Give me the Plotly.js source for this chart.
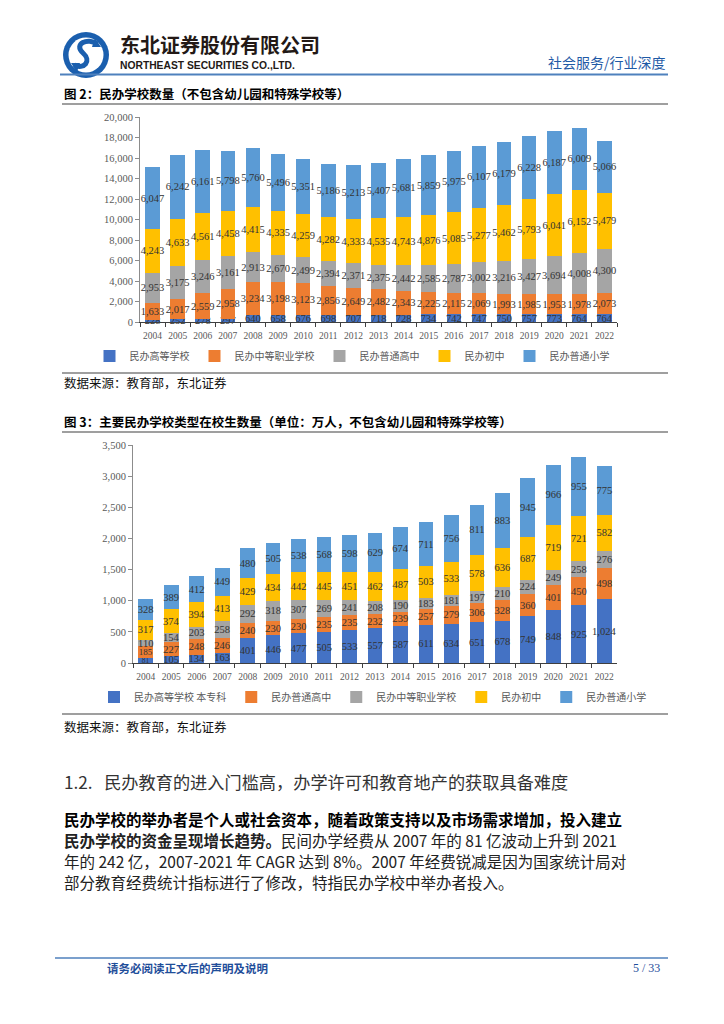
<!DOCTYPE html>
<html><head><meta charset="utf-8">
<script src="https://cdn.plot.ly/plotly-3.0.1.min.js"></script>
<style>html,body{margin:0;padding:0;background:#fff;}#chart{width:724px;height:1024px;}</style>
</head><body><div id="chart"></div>
<script>
// ---------- data ----------
const years = ['2004','2005','2006','2007','2008','2009','2010','2011','2012','2013','2014','2015','2016','2017','2018','2019','2020','2021','2022'];

// 图2 民办学校数量（所）
const schoolNames = ['民办高等学校','民办中等职业学校','民办普通高中','民办初中','民办普通小学'];
const schoolsHigher     = [228,252,278,297,640,658,676,698,707,718,728,734,742,747,750,757,773,764,764];
const schoolsVocational = [1633,2017,2559,2958,3234,3198,3123,2856,2649,2482,2343,2225,2115,2069,1993,1985,1953,1978,2073];
const schoolsHighSchool = [2953,3175,3246,3161,2913,2670,2499,2394,2371,2375,2442,2585,2787,3002,3216,3427,3694,4008,4300];
const schoolsJunior     = [4243,4633,4561,4458,4415,4335,4259,4282,4333,4535,4743,4876,5085,5277,5462,5793,6041,6152,5479];
const schoolsPrimary    = [6047,6242,6161,5798,5760,5496,5351,5186,5213,5407,5681,5859,5975,6107,6179,6228,6187,6009,5066];

// 图3 主要民办学校类型在校生数量（万人）
const studentNames = ['民办高等学校 本专科','民办普通高中','民办中等职业学校','民办初中','民办普通小学'];
const studentsHigher     = [81,105,134,163,401,446,477,505,533,557,587,611,634,651,678,749,848,925,1024];
const studentsHighSchool = [185,227,248,246,240,230,230,235,235,232,239,257,279,306,328,360,401,450,498];
const studentsVocational = [110,154,203,258,292,318,307,269,241,208,190,183,181,197,210,224,249,258,276];
const studentsJunior     = [317,374,394,413,429,434,442,445,451,462,487,503,533,578,636,687,719,721,582];
const studentsPrimary    = [328,389,412,449,480,505,538,568,598,629,674,711,756,811,883,945,966,955,775];

const colors = ['#4472C4','#ED7D31','#A5A5A5','#FFC000','#5B9BD5'];

// ---------- helpers ----------
const W = 724, H = 1024;
const px = x => x / W;
const py = y => 1 - y / H;
const CJK = 'Noto Sans CJK SC';
const SERIF = 'Liberation Serif, Times New Roman, serif';

function bar(name, y, color, xa, ya, lg, firstSize) {
  const size = firstSize ? y.map((v, i) => i === 0 ? firstSize : 10.5) : 10.5;
  return {
    type: 'bar', name: name, x: years, y: y, xaxis: xa, yaxis: ya, legend: lg,
    marker: {color: color, line: {width: 0}},
    texttemplate: '%{y:,}', textposition: 'inside', insidetextanchor: 'middle',
    textangle: 0, constraintext: 'none', cliponaxis: false,
    insidetextfont: {family: SERIF, size: size, color: '#333333'},
    textfont: {family: SERIF, size: size, color: '#333333'},
    hoverinfo: 'skip'
  };
}

const schoolSeries = [schoolsHigher, schoolsVocational, schoolsHighSchool, schoolsJunior, schoolsPrimary];
const studentSeries = [studentsHigher, studentsHighSchool, studentsVocational, studentsJunior, studentsPrimary];
const studentFirstSize = [7.5, 9, null, null, null];

const data = [];
schoolSeries.forEach((s, i) => data.push(bar(schoolNames[i], s, colors[i], 'x', 'y', 'legend')));
studentSeries.forEach((s, i) => data.push(bar(studentNames[i], s, colors[i], 'x2', 'y2', 'legend2', studentFirstSize[i])));

function xAxis(domain, anchor) {
  return {
    domain: domain, anchor: anchor, type: 'category',
    showline: true, linecolor: '#3f3f3f', linewidth: 1,
    ticks: 'outside', tickson: 'boundaries', ticklen: 4, tickcolor: '#3f3f3f',
    tickangle: 0, automargin: false, ticklabelstandoff: 5,
    tickfont: {family: SERIF, size: 9.5, color: '#595959'},
    showgrid: false, zeroline: false, fixedrange: true
  };
}
function yAxis(domain, anchor, range, dtick) {
  return {
    domain: domain, anchor: anchor, range: range, dtick: dtick, tickformat: ',d',
    showline: true, linecolor: '#8c8c8c', linewidth: 1,
    ticks: 'outside', ticklen: 4, tickcolor: '#8c8c8c', automargin: false,
    tickfont: {family: SERIF, size: 10.5, color: '#595959'},
    showgrid: false, zeroline: false, fixedrange: true
  };
}

function ann(x, y, text, size, opts) {
  return Object.assign({
    xref: 'paper', yref: 'paper', x: px(x), y: py(y), text: text,
    showarrow: false, xanchor: 'left', yanchor: 'middle',
    font: {family: CJK, size: size, color: '#000000'}
  }, opts || {});
}
function hline(x0, x1, y, color, width) {
  return {type: 'line', xref: 'paper', yref: 'paper', x0: px(x0), x1: px(x1), y0: py(y), y1: py(y),
          line: {color: color, width: width}};
}
function pathPx(cmds) {
  return cmds.map(c => c[0] + ' ' + c.slice(1).reduce((a, v, i) => {
    a.push(i % 2 === 0 ? px(v).toFixed(5) : py(v).toFixed(5)); return a; }, []).join(' ')).join(' ');
}

const bodyFont = {family: CJK, size: 15.5, color: '#222222'};
const annotations = [
  ann(118, 44, '<b>东北证券股份有限公司</b>', 20, {font: {family: CJK, size: 20, color: '#231916'}}),
  ann(118, 65, '<b>NORTHEAST SECURITIES CO.,LTD.</b>', 10, {font: {family: 'Liberation Sans, Arial, sans-serif', size: 10.3, color: '#231916'}}),
  ann(668, 62, '社会服务/行业深度', 14, {xanchor: 'right', font: {family: CJK, size: 14, color: '#1F5AA6'}}),
  ann(62, 93, '<b>图 2：民办学校数量（不包含幼儿园和特殊学校等）</b>', 12.5),
  ann(62, 382, '数据来源：教育部，东北证券', 12.5, {font: {family: CJK, size: 12.5, color: '#111111'}}),
  ann(62, 421, '<b>图 3：主要民办学校类型在校生数量（单位：万人，不包含幼儿园和特殊学校等）</b>', 12.5),
  ann(62, 726, '数据来源：教育部，东北证券', 12.5, {font: {family: CJK, size: 12.5, color: '#111111'}}),
  ann(62, 781, '1.2.   民办教育的进入门槛高，办学许可和教育地产的获取具备难度', 17.2, {font: {family: CJK, size: 17.2, color: '#333333'}}),
  ann(62, 819, '<b>民办学校的举办者是个人或社会资本，随着政策支持以及市场需求增加，投入建立</b>', 15.5, {font: {family: CJK, size: 15.5, color: '#000000'}}),
  ann(62, 840, '<b>民办学校的资金呈现增长趋势。</b>民间办学经费从 2007 年的 81 亿波动上升到 2021', 15.5, {font: bodyFont}),
  ann(62, 861, '年的 242 亿，2007-2021 年 CAGR 达到 8%。2007 年经费锐减是因为国家统计局对', 15.5, {font: bodyFont}),
  ann(62, 882, '部分教育经费统计指标进行了修改，特指民办学校中举办者投入。', 15.5, {font: bodyFont}),
  ann(105, 968, '<b>请务必阅读正文后的声明及说明</b>', 11.5, {font: {family: CJK, size: 11.5, color: '#1F4E9A'}}),
  ann(662, 968, '5 / 33', 12, {xanchor: 'right', font: {family: SERIF, size: 12, color: '#1F4E9A'}})
];

const shapes = [
  // logo
  {type: 'circle', xref: 'paper', yref: 'paper', x0: px(63), x1: px(109), y0: py(78), y1: py(32), fillcolor: '#1B5FAE', line: {width: 0}},
  {type: 'circle', xref: 'paper', yref: 'paper', x0: px(68.5), x1: px(103.5), y0: py(72.5), y1: py(37.5), fillcolor: '#ffffff', line: {width: 0}},
  {type: 'path', xref: 'paper', yref: 'paper', line: {color: '#1B5FAE', width: 5},
   path: pathPx([['M', 97, 44], ['C', 88, 37, 73, 44, 83, 53], ['C', 92, 61, 84, 70, 74, 65]])},
  {type: 'path', xref: 'paper', yref: 'paper', fillcolor: '#1B5FAE', line: {width: 0},
   path: pathPx([['M', 95, 38], ['L', 101, 47], ['L', 92, 47], ['Z']])},
  {type: 'path', xref: 'paper', yref: 'paper', fillcolor: '#1B5FAE', line: {width: 0},
   path: pathPx([['M', 77, 72], ['L', 71, 63], ['L', 80, 63], ['Z']])},
  hline(60, 668, 74.5, '#4F81BD', 2),
  hline(62, 668, 104, '#7f7f7f', 1.5),
  hline(62, 668, 373, '#7f7f7f', 1.5),
  hline(62, 668, 432, '#7f7f7f', 1.5),
  hline(62, 668, 714, '#7f7f7f', 1.5),
  hline(55, 668, 958, '#4F81BD', 1.5)
];

const legendBase = {
  orientation: 'h', xanchor: 'center', yanchor: 'middle', traceorder: 'normal',
  font: {family: CJK, size: 10, color: '#595959'}, bgcolor: 'rgba(0,0,0,0)',
  itemwidth: 30, itemclick: false, itemdoubleclick: false
};

const layout = {
  width: W, height: H, margin: {l: 0, r: 0, t: 0, b: 0},
  paper_bgcolor: '#ffffff', plot_bgcolor: '#ffffff',
  font: {family: CJK},
  barmode: 'stack', bargap: 0.42, showlegend: true,
  xaxis: xAxis([px(140), px(617)], 'y'),
  yaxis: yAxis([py(322), py(117)], 'x', [0, 20000], 2000),
  xaxis2: xAxis([px(133), px(617)], 'y2'),
  yaxis2: yAxis([py(663), py(445)], 'x2', [0, 3500], 500),
  legend: Object.assign({}, legendBase, {x: px(352), y: py(356)}),
  legend2: Object.assign({}, legendBase, {x: px(373), y: py(697)}),
  annotations: annotations,
  shapes: shapes
};

Plotly.newPlot('chart', data, layout, {displayModeBar: false, responsive: false});
</script>
</body></html>
